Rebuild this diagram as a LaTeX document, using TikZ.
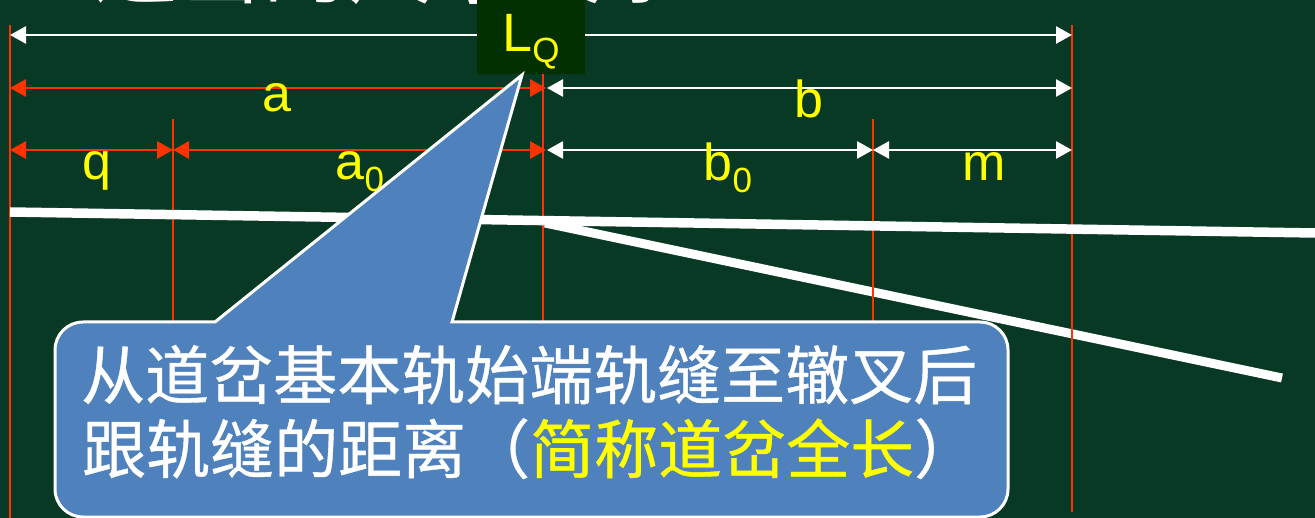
\documentclass[tikz,border=0pt]{standalone}
\usepackage{fontspec}
\setmainfont{Liberation Sans}
\newfontfamily\cjk{Noto Sans CJK SC}
\newfontfamily\cjkheavy[FakeBold=0.6]{Noto Sans CJK SC}
\definecolor{bg}{RGB}{7,57,37}
\definecolor{dimred}{RGB}{255,51,0}
\definecolor{callout}{RGB}{79,129,189}
\definecolor{lqbox}{RGB}{2,48,0}
\definecolor{labely}{RGB}{255,255,0}
\usetikzlibrary{arrows.meta}
\tikzset{
 ext/.style={draw=dimred,line width=2pt},
 extthin/.style={draw=dimred,line width=1.5pt},
 reddim/.style={draw=dimred,line width=2.9pt,{Triangle[width=17pt,length=16pt]}-{Triangle[width=17pt,length=16pt]}},
 whitedim/.style={draw=white,line width=2.7pt,{Triangle[width=17pt,length=16pt]}-{Triangle[width=17pt,length=16pt]}},
 rail/.style={draw=white,line width=9.5pt},
 branchrail/.style={draw=white,line width=9pt},
 lab/.style={text=labely,font=\fontsize{52}{52}\selectfont,inner sep=0pt,anchor=base},
 cjktext/.style={text=white,font=\cjkheavy\fontsize{64}{64}\selectfont,inner sep=0pt,anchor=base west}
}
\newcommand{\subs}[1]{\raisebox{-12pt}{\fontsize{35}{35}\selectfont #1}}
\begin{document}
\begin{tikzpicture}[x=1pt,y=-1pt]
\useasboundingbox (0,0) rectangle (1315,518);
\fill[bg] (0,0) rectangle (1315,518);
% title, cut by the top edge as in the reference
\begin{scope}
\clip (0,0) rectangle (1315,518);
\node[text=white,font=\cjk\fontsize{85}{85}\selectfont,inner sep=0pt,anchor=base west] (title) at (93,-2) {道岔的尺寸关系};
\end{scope}
% coordinates
\coordinate (x0t) at (10,25); \coordinate (x0b) at (10,518);
\coordinate (x1t) at (173,119); \coordinate (x1b) at (173,325);
\coordinate (x2t) at (543,70); \coordinate (x2b) at (543,325);
\coordinate (x3t) at (873,119); \coordinate (x3b) at (873,325);
\coordinate (x4t) at (1072,25); \coordinate (x4b) at (1072,512);
% rails and extension lines
\coordinate (r0) at (10,212); \coordinate (r1) at (1315,233);
\coordinate (s0) at (545,223); \coordinate (s1) at (1282,378);
\draw[branchrail] (s0) -- (s1);
\draw[ext] (x0t) -- (x0b);
\draw[extthin] (x1t) -- (x1b);
\draw[ext] (x2t) -- (x2b);
\draw[extthin] (x3t) -- (x3b);
\draw[ext] (x4t) -- (x4b);
\draw[rail] (r0) -- (r1);
% dimensions
\coordinate (t0) at (10,35); \coordinate (t4) at (1072,35);
\draw[whitedim] (t0) -- (t4);
\coordinate (a0) at (10,88); \coordinate (a2) at (546,88); \coordinate (a2w) at (547,88); \coordinate (a4) at (1072,88);
\draw[whitedim] (a2w) -- (a4);
\draw[reddim] (a0) -- (a2);
\coordinate (b0) at (10,150); \coordinate (b1) at (173,150); \coordinate (b2) at (546,150); \coordinate (b2w) at (547,150); \coordinate (b3) at (873,150); \coordinate (b4) at (1072,150);
\draw[whitedim] (b2w) -- (b3);
\draw[whitedim] (b3) -- (b4);
\draw[reddim] (b0) -- (b1);
\draw[reddim] (b1) -- (b2);
% labels
\node[lab] (la) at (277,112) {a};
\node[lab] (lb) at (809,118) {b};
\node[lab] (lq) at (97,180) {q};
\node[lab] (la0) at (360,180) {a\subs{0}};
\node[lab] (lb0) at (728,181) {b\subs{0}};
\node[lab] (lm) at (984,181) {m};
% LQ box
\node[fill=lqbox,minimum width=108pt,minimum height=74pt,inner sep=0pt,anchor=north west] (lqb) at (477,0) {};
\node[lab,font=\fontsize{54}{54}\selectfont] (lql) at (531,52) {L\raisebox{-11pt}{\fontsize{35}{35}\selectfont Q}};
% callout
\draw[draw=white,fill=callout,line width=3pt,line join=miter]
  (215,322) -- (522,75) -- (452,322) -- (980,322)
  .. controls (995.5,322) and (1008,334.5) .. (1008,350)
  -- (1008,489)
  .. controls (1008,504.5) and (995.5,517) .. (980,517)
  -- (83,517)
  .. controls (67.5,517) and (55,504.5) .. (55,489)
  -- (55,350)
  .. controls (55,334.5) and (67.5,322) .. (83,322)
  -- cycle;
\node[cjktext] (c1) at (81,399) {从道岔基本轨始端轨缝至辙叉后};
\node[cjktext] (c2) at (82,473) {跟轨缝的距离（\textcolor{labely}{简称道岔全长}）};
\end{tikzpicture}
\end{document}
